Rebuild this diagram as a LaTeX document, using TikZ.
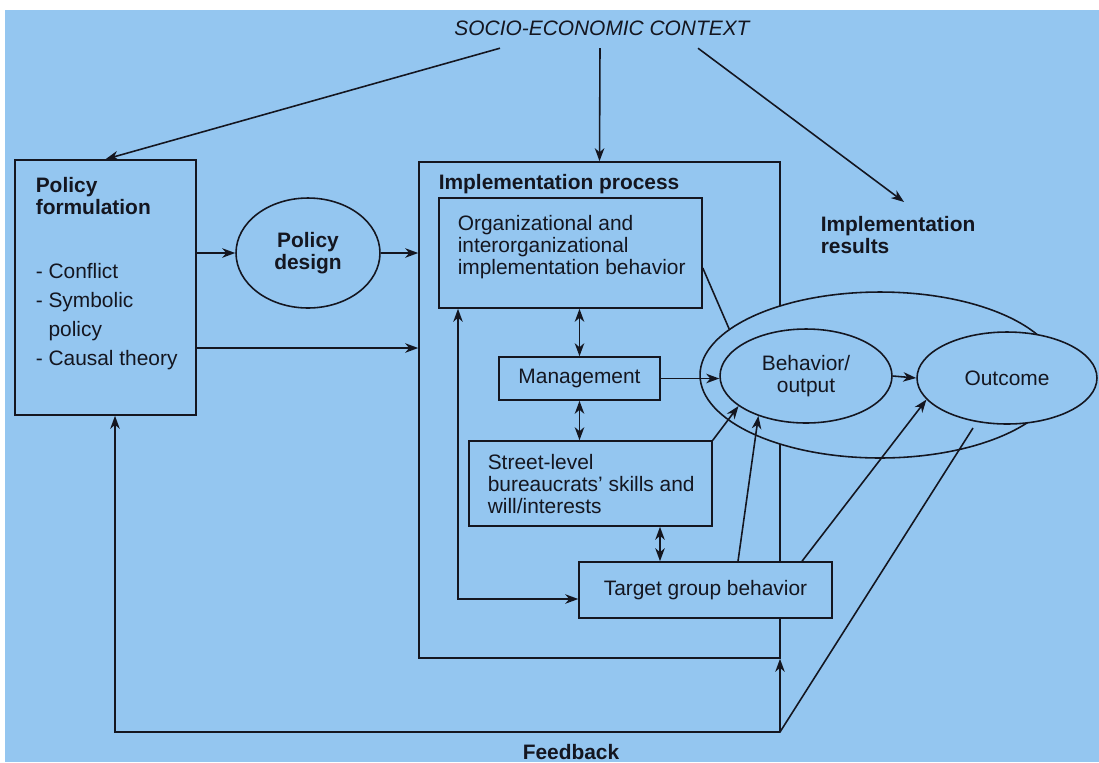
\documentclass[tikz,border=0pt]{standalone}
\usepackage{fontspec}
\setmainfont{Liberation Sans}
\usetikzlibrary{shapes.geometric,arrows.meta,fit,calc}
\definecolor{bg}{RGB}{148,198,240}
\definecolor{ink}{RGB}{20,22,32}
\begin{document}
\begin{tikzpicture}[x=0.02cm,y=-0.02cm,
  font=\fontsize{11.9pt}{12.5pt}\selectfont,
  line width=0.9pt,
  every node/.style={text=ink},
  box/.style={draw=ink, inner sep=0pt},
  oval/.style={draw=ink, ellipse, inner sep=0pt, fill=bg},
  tip/.tip={Stealth[length=2.6mm,width=1.9mm,inset=0.8mm]},
  arr/.style={draw=ink, -tip},
  darr/.style={draw=ink, tip-tip},
  ln/.style={draw=ink},
  lbl/.style={inner sep=0pt, align=left},
  bold/.style={font=\fontsize{11.9pt}{12.5pt}\selectfont\bfseries}
]
\useasboundingbox (0,0) rectangle (1099,762);
\fill[white] (0,0) rectangle (1099,762);
\fill[bg] (5,10) rectangle (1099,762);

% nodes
\node[inner sep=0pt, font=\fontsize{11.9pt}{12.5pt}\selectfont\itshape] (socio) at (602,28) {SOCIO-ECONOMIC CONTEXT};
\node[box, fit={(15,160)(196,415)}] (pf) {};
\node[lbl, bold, anchor=north west] (pft) at (35,177) {Policy\\formulation};
\node[lbl, anchor=north west, font=\fontsize{11.9pt}{16.5pt}\selectfont] (pfl) at (35,263) {- Conflict\\- Symbolic\\\phantom{- }policy\\- Causal theory};
\node[oval, minimum width=2.88cm, minimum height=2.2cm, align=center, bold] (pd) at (308,253) {Policy\\design};

\node[box, fit={(419,162)(780,658)}] (impl) {};
\node[inner sep=0pt, bold, anchor=base west] (implt) at (438,189) {Implementation process};
\node[box, fit={(439,198)(702,308)}] (org) {};
\node[lbl, anchor=north west] (orgt) at (457,215) {Organizational and\\interorganizational\\implementation behavior};
\node[box, minimum width=3.22cm, minimum height=0.86cm] (mgmt) at (579.5,378.5) {Management};
\node[box, fit={(469,441)(712,526)}] (street) {};
\node[lbl, anchor=north west] (streett) at (487,454) {Street-level\\bureaucrats' skills and\\will/interests};
\node[box, fill=bg, minimum width=5.06cm, minimum height=1.12cm] (target) at (705.5,590) {Target group behavior};

\node[oval, minimum width=7.2cm, minimum height=3.32cm] (outer) at (880,375) {};
\node[oval, minimum width=3.44cm, minimum height=1.88cm, align=center] (beh) at (806,376) {Behavior/\\output};
\node[oval, minimum width=3.6cm, minimum height=1.84cm] (out) at (1007,378) {Outcome};
\node[lbl, bold, anchor=north west] (ires) at (820,216) {Implementation\\results};
\node[inner sep=0pt, bold] (fbt) at (571,752) {Feedback};

% connectors
\draw[arr] ($(socio.south)+(-102,12)$) -- (pf.north);
\draw[arr] ($(socio.south)+(-2,12)$) -- (impl.north);
\draw[arr] ($(socio.south)+(96,12)$) -- ($(ires.north)+(6,-14)$);
\draw[arr] (pf.east |- pd.west) -- (pd.west);
\draw[arr] (pd.east) -- (pd.east -| impl.west);
\coordinate (y348) at (0,348);
\draw[arr] (pf.east |- y348) -- (impl.west |- y348);
\coordinate (y268) at (0,268);
\draw[ln] (org.east |- y268) -- (outer.163);
\draw[darr] (mgmt.north) -- (mgmt.north |- org.south);
\draw[darr] (mgmt.south) -- (mgmt.south |- street.north);
\coordinate (x660) at (660,0);
\draw[darr] (street.south -| x660) -- (target.north -| x660);
\coordinate (lc) at (458,599);
\draw[darr] (org.south -| lc) -- (lc) -- (lc -| target.west);
\draw[arr] (mgmt.east) -- (mgmt.east -| beh.west);
\draw[arr] (street.north east) -- (beh.204);
\coordinate (x738) at (738,0);
\draw[arr] (target.north -| x738) -- (beh.220);
\coordinate (x802) at (802,0);
\draw[arr] (target.north -| x802) -- (out.195);
\draw[arr] (beh.east) -- (out.west);
\coordinate (fs) at (973,428);
\coordinate (fb) at (780,732);
\coordinate (x115) at (115,0);
\draw[arr] (fs) -- (fb) -- (fb -| x115) -- (x115 |- pf.south);
\draw[arr] (fb) -- (fb |- impl.south);
\end{tikzpicture}
\end{document}
